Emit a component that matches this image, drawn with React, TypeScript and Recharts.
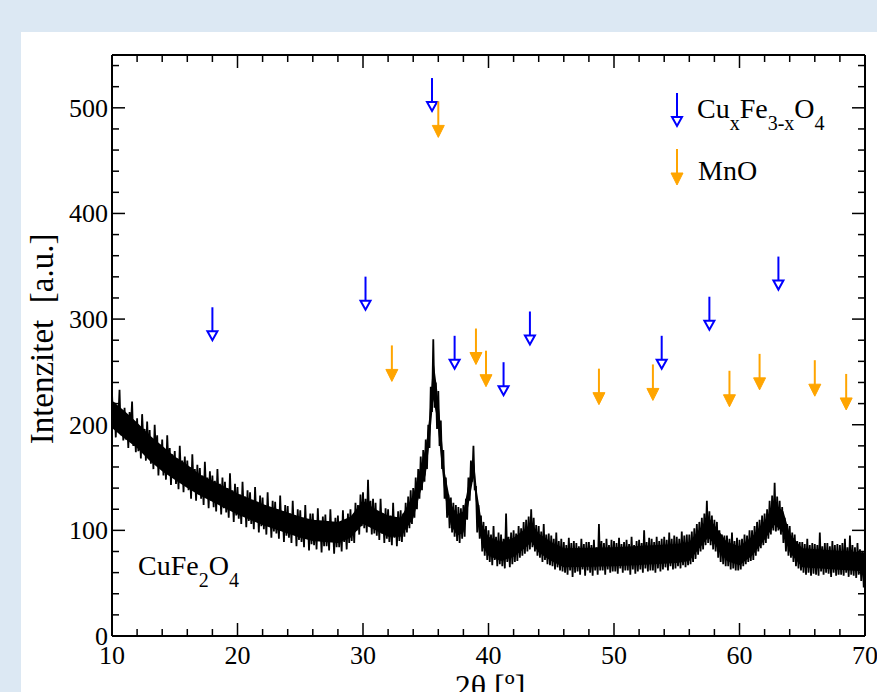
import React from 'react';
import { ComposedChart, Line, Area, Scatter, XAxis, YAxis, ReferenceLine } from 'recharts';

// ---- measured signal (2θ from 10° in 0.1° steps) ----
const angleStart = 10;
const angleStep = 0.1;
const intensity = [
  230, 198, 221, 188, 215, 204, 233, 190, 212, 185,
  216, 186, 205, 178, 212, 196, 222, 180, 201, 174,
  206, 175, 198, 168, 210, 184, 196, 166, 203, 172,
  195, 163, 186, 158, 200, 172, 190, 152, 181, 160,
  186, 152, 175, 148, 190, 160, 178, 143, 172, 150,
  175, 144, 168, 139, 180, 150, 166, 136, 170, 142,
  166, 138, 160, 130, 172, 142, 158, 128, 162, 134,
  159, 130, 152, 124, 165, 136, 150, 121, 156, 128,
  152, 122, 147, 118, 158, 128, 144, 115, 150, 121,
  146, 117, 140, 112, 154, 122, 138, 108, 144, 114,
  141, 111, 134, 106, 146, 116, 132, 103, 138, 109,
  136, 106, 129, 101, 141, 110, 127, 98, 133, 104,
  131, 101, 124, 96, 136, 105, 122, 93, 128, 99,
  127, 97, 120, 92, 133, 101, 118, 89, 124, 95,
  123, 93, 116, 88, 128, 97, 114, 85, 120, 91,
  119, 89, 112, 84, 124, 93, 110, 81, 116, 87,
  116, 86, 109, 82, 121, 90, 107, 79, 113, 85,
  115, 85, 108, 81, 120, 89, 106, 78, 112, 84,
  114, 84, 107, 80, 119, 89, 108, 82, 116, 88,
  120, 90, 114, 88, 126, 100, 124, 96, 134, 104,
  136, 102, 130, 98, 148, 104, 128, 96, 130, 97,
  126, 95, 118, 91, 130, 97, 116, 88, 121, 92,
  120, 89, 114, 86, 126, 93, 112, 85, 118, 90,
  119, 89, 116, 94, 126, 98, 132, 102, 138, 106,
  140, 112, 150, 120, 158, 130, 170, 138, 176, 146,
  186, 158, 200, 178, 236, 212, 281, 216, 240, 196,
  232, 180, 204, 158, 176, 130, 150, 112, 134, 102,
  131, 98, 126, 94, 124, 90, 122, 88, 121, 92,
  124, 94, 130, 110, 150, 128, 166, 146, 180, 138,
  142, 98, 124, 92, 114, 80, 108, 76, 104, 72,
  100, 70, 96, 67, 104, 72, 94, 66, 98, 68,
  96, 66, 92, 64, 116, 70, 94, 65, 98, 68,
  100, 70, 97, 71, 104, 74, 102, 76, 108, 78,
  110, 80, 113, 82, 120, 84, 112, 80, 105, 76,
  104, 74, 99, 70, 106, 72, 96, 68, 97, 67,
  95, 66, 92, 63, 98, 65, 90, 62, 92, 61,
  89, 60, 86, 58, 93, 62, 88, 56, 90, 60,
  88, 61, 85, 58, 92, 63, 87, 57, 89, 62,
  89, 60, 86, 57, 91, 62, 84, 58, 106, 62,
  90, 62, 88, 58, 92, 63, 86, 60, 91, 61,
  90, 61, 88, 59, 93, 64, 87, 60, 89, 62,
  91, 62, 87, 58, 94, 63, 86, 59, 90, 61,
  91, 63, 88, 60, 100, 64, 89, 61, 93, 62,
  92, 62, 89, 60, 94, 64, 90, 61, 92, 63,
  94, 65, 91, 62, 98, 66, 92, 63, 95, 64,
  94, 66, 92, 64, 99, 67, 95, 65, 96, 67,
  96, 68, 99, 70, 102, 73, 106, 77, 108, 80,
  112, 82, 116, 86, 128, 88, 118, 86, 114, 82,
  110, 80, 108, 74, 100, 70, 96, 68, 95, 66,
  95, 66, 92, 63, 98, 64, 90, 62, 93, 62,
  91, 63, 92, 66, 96, 68, 95, 70, 100, 71,
  100, 72, 104, 76, 108, 80, 110, 83, 114, 86,
  116, 88, 120, 92, 128, 96, 133, 100, 145, 99,
  132, 100, 128, 96, 122, 88, 112, 80, 106, 76,
  104, 74, 98, 70, 96, 66, 90, 64, 89, 62,
  89, 60, 87, 58, 92, 60, 86, 57, 88, 59,
  87, 58, 86, 57, 98, 61, 85, 58, 88, 60,
  88, 59, 85, 56, 90, 60, 86, 57, 87, 58,
  86, 58, 88, 57, 92, 60, 84, 56, 95, 58,
  86, 57, 84, 55, 88, 58, 82, 52, 80, 46,
  74,
];

// dense core of the noisy band
const coreAngles = [10, 11, 12, 13, 14, 15, 16, 17, 18, 19, 20, 21, 22, 23, 24, 25, 26, 27, 28, 29, 30, 31, 32, 33, 34, 34.5, 35, 35.3, 35.6, 35.9, 36.2, 36.5, 37, 37.5, 38, 38.5, 38.8, 39.1, 39.5, 40, 41, 42, 43, 43.4, 44, 45, 46, 50, 55, 56, 57, 57.5, 58, 59, 60, 61, 62, 62.8, 63.5, 64, 65, 70];
const coreLow = [197, 187, 178, 166, 156, 148, 140, 133, 127, 121, 115, 110, 105, 101, 97, 93, 90, 89, 88, 93, 106, 100, 94, 94, 111, 133, 153, 183, 224, 206, 170, 134, 105, 95, 98, 130, 150, 115, 85, 76, 71, 75, 84, 89, 79, 71, 65, 66, 69, 71, 86, 93, 87, 71, 67, 76, 91, 105, 98, 79, 65, 61];
const coreHigh = [223, 213, 202, 190, 180, 170, 162, 153, 147, 141, 135, 130, 125, 121, 117, 113, 110, 109, 108, 113, 128, 120, 114, 112, 133, 157, 178, 209, 262, 234, 198, 156, 125, 115, 118, 150, 170, 135, 105, 94, 89, 93, 102, 107, 97, 89, 83, 84, 87, 89, 104, 113, 105, 89, 85, 94, 109, 125, 118, 97, 83, 79];

// reflection markers (angle, arrow-tip intensity)
const cuFeAngles = [18.0, 30.2, 35.5, 37.3, 41.2, 43.3, 53.8, 57.6, 63.1];
const cuFeTips = [279, 308, 496, 252, 227, 275, 252, 289, 327];
const mnoAngles = [32.3, 36.0, 39.0, 39.8, 48.8, 53.1, 59.2, 61.6, 66.0, 68.5];
const mnoTips = [241, 472, 257, 236, 219, 223, 217, 233, 227, 214];

// ticks
const xTicks = [10, 12, 14, 16, 18, 20, 22, 24, 26, 28, 30, 32, 34, 36, 38, 40, 42, 44, 46, 48, 50, 52, 54, 56, 58, 60, 62, 64, 66, 68, 70];
const xMajorTicks = [10, 20, 30, 40, 50, 60, 70];
const yTicks = [0, 20, 40, 60, 80, 100, 120, 140, 160, 180, 200, 220, 240, 260, 280, 300, 320, 340, 360, 380, 400, 420, 440, 460, 480, 500, 520, 540];
const yMajorTicks = [0, 100, 200, 300, 400, 500];
const xDomain = [10, 70];
const yDomain = [0, 550];

const signalData = intensity.map((v, i) => ({ angle: Math.round((angleStart + i * angleStep) * 10) / 10, intensity: v }));
const coreData = coreAngles.map((a, i) => ({ angle: a, band: [coreLow[i], coreHigh[i]] }));
const cuFeData = cuFeAngles.map((a, i) => ({ angle: a, tip: cuFeTips[i] }));
const mnoData = mnoAngles.map((a, i) => ({ angle: a, tip: mnoTips[i] }));

// layout
const W = 877;
const H = 692;
const MARGIN = { top: 55, right: 12, bottom: 0, left: 0 };
const Y_AXIS_W = 112;
const X_AXIS_H = 56;
const PLOT_LEFT = MARGIN.left + Y_AXIS_W;
const PLOT_RIGHT = W - MARGIN.right;
const PLOT_TOP = MARGIN.top;
const PLOT_BOTTOM = H - MARGIN.bottom - X_AXIS_H;

const FONT = '"Liberation Serif", "Times New Roman", Times, serif';
const BLUE = '#0000ff';
const ORANGE = '#ffa500';

const BlueArrow = (p: any) => {
  const { cx, cy } = p;
  if (cx == null || cy == null) return <g />;
  return (
    <g>
      <line x1={cx} y1={cy - 34} x2={cx} y2={cy - 10} stroke={BLUE} strokeWidth={2} />
      <polygon points={`${cx - 5},${cy - 10} ${cx + 5},${cy - 10} ${cx},${cy - 1}`} fill="#fff" stroke={BLUE} strokeWidth={2} />
    </g>
  );
};

const OrangeArrow = (p: any) => {
  const { cx, cy } = p;
  if (cx == null || cy == null) return <g />;
  return (
    <g>
      <line x1={cx} y1={cy - 36} x2={cx} y2={cy - 11} stroke={ORANGE} strokeWidth={2} />
      <polygon points={`${cx - 6},${cy - 12} ${cx + 6},${cy - 12} ${cx},${cy}`} fill={ORANGE} stroke={ORANGE} strokeWidth={1} />
    </g>
  );
};

// x ticks: inward marks on bottom and top frame, labels below
const XTick = (p: any) => {
  const { x, payload } = p;
  const major = xMajorTicks.includes(payload.value);
  const len = major ? 13 : 7;
  return (
    <g>
      <line x1={x} y1={PLOT_BOTTOM} x2={x} y2={PLOT_BOTTOM - len} stroke="#000" strokeWidth={1.5} />
      <line x1={x} y1={PLOT_TOP} x2={x} y2={PLOT_TOP + len} stroke="#000" strokeWidth={1.5} />
      {major && (
        <text x={x} y={PLOT_BOTTOM + 28} textAnchor="middle" fontSize={26} fontFamily={FONT} fill="#000">
          {payload.value}
        </text>
      )}
    </g>
  );
};

// y ticks: inward marks on left and right frame, labels to the left
const YTick = (p: any) => {
  const { y, payload } = p;
  const major = yMajorTicks.includes(payload.value);
  const len = major ? 13 : 7;
  return (
    <g>
      <line x1={PLOT_LEFT} y1={y} x2={PLOT_LEFT + len} y2={y} stroke="#000" strokeWidth={1.5} />
      <line x1={PLOT_RIGHT} y1={y} x2={PLOT_RIGHT - len} y2={y} stroke="#000" strokeWidth={1.5} />
      {major && (
        <text x={PLOT_LEFT - 4} y={y + 9} textAnchor="end" fontSize={26} fontFamily={FONT} fill="#000">
          {payload.value}
        </text>
      )}
    </g>
  );
};

export default function App() {
  return (
    <div style={{ position: 'absolute', left: 0, top: 0, width: W, height: H, background: '#dce8f3', overflow: 'hidden' }}>
      <div style={{ position: 'absolute', left: 21, top: 32, width: W - 21, height: H - 32, background: '#ffffff' }} />
      <div style={{ position: 'absolute', left: 0, top: 0 }}>
        <ComposedChart width={W} height={H} margin={MARGIN}>
          <XAxis
            dataKey="angle"
            type="number"
            domain={xDomain}
            allowDataOverflow
            ticks={xTicks}
            interval={0}
            height={X_AXIS_H}
            tickLine={false}
            axisLine={{ stroke: '#000', strokeWidth: 2 }}
            tick={(p: any) => <XTick {...p} />}
          />
          <YAxis
            type="number"
            domain={yDomain}
            allowDataOverflow
            ticks={yTicks}
            interval={0}
            width={Y_AXIS_W}
            tickLine={false}
            axisLine={{ stroke: '#000', strokeWidth: 2 }}
            tick={(p: any) => <YTick {...p} />}
          />
          <ReferenceLine y={yDomain[1]} stroke="#000" strokeWidth={2} />
          <ReferenceLine x={xDomain[1]} stroke="#000" strokeWidth={2} />
          <Area
            data={coreData}
            dataKey="band"
            type="linear"
            stroke="none"
            fill="#000"
            fillOpacity={1}
            isAnimationActive={false}
          />
          <Line
            data={signalData}
            dataKey="intensity"
            type="linear"
            stroke="#000"
            strokeWidth={1.8}
            dot={false}
            isAnimationActive={false}
          />
          <Scatter data={cuFeData} dataKey="tip" shape={(p: any) => <BlueArrow {...p} />} isAnimationActive={false} />
          <Scatter data={mnoData} dataKey="tip" shape={(p: any) => <OrangeArrow {...p} />} isAnimationActive={false} />
        </ComposedChart>
      </div>
      <svg width={W} height={H} style={{ position: 'absolute', left: 0, top: 0, pointerEvents: 'none' }}>
        <g fontFamily={FONT} fill="#000">
          <BlueArrow cx={677} cy={127} />
          <text x={697} y={118} fontSize={28}>
            Cu<tspan fontSize={20} dy={12}>x</tspan>
            <tspan dy={-12}>Fe</tspan>
            <tspan fontSize={20} dy={12}>3-x</tspan>
            <tspan dy={-12}>O</tspan>
            <tspan fontSize={20} dy={12}>4</tspan>
          </text>
          <OrangeArrow cx={677} cy={185} />
          <text x={698} y={180} fontSize={28}>MnO</text>
          <text x={138} y={575} fontSize={28}>
            CuFe<tspan fontSize={20} dy={12}>2</tspan>
            <tspan dy={-12}>O</tspan>
            <tspan fontSize={20} dy={12}>4</tspan>
          </text>
          <text x={53} y={339} fontSize={33} textAnchor="middle" transform="rotate(-90, 53, 339)" style={{ whiteSpace: 'pre' }} xmlSpace="preserve">
            {'Intenzitet  [a.u.]'}
          </text>
          <text x={490} y={697} fontSize={32} textAnchor="middle">2θ [º]</text>
        </g>
      </svg>
    </div>
  );
}
